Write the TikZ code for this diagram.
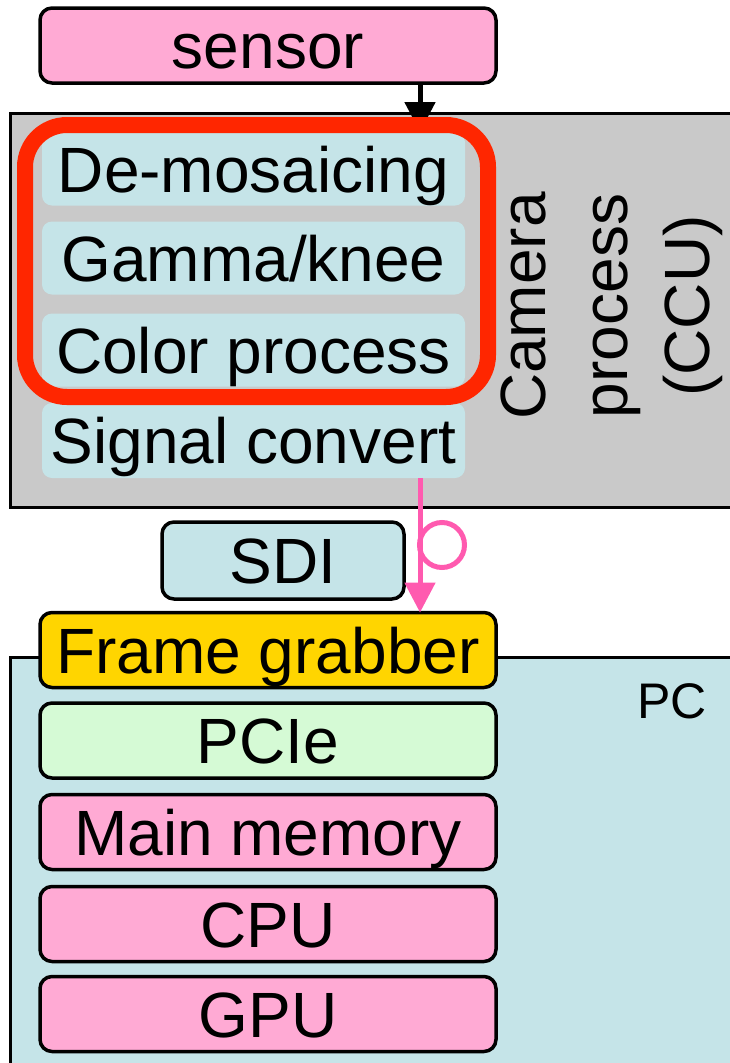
\documentclass[tikz,border=0pt]{standalone}
\usepackage{fontspec}
\setmainfont{Liberation Sans}
\usetikzlibrary{arrows.meta}

\definecolor{boxpink}{HTML}{FFAAD4}
\definecolor{boxblue}{HTML}{C5E4E8}
\definecolor{ccugray}{HTML}{C9C9C9}
\definecolor{groupred}{HTML}{FF2600}
\definecolor{boxgold}{HTML}{FFD500}
\definecolor{boxgreen}{HTML}{D5FAD5}
\definecolor{linkpink}{HTML}{FF5AAF}

\tikzset{
  lbl/.style={font=\fontsize{64}{71}\selectfont, text height=46pt, text depth=0pt, inner sep=0pt, outer sep=0pt},
  unit/.style={lbl, draw=black, line width=3.5pt, rounded corners=12pt, minimum width=456pt, minimum height=75pt},
  stage/.style={lbl, fill=boxblue, rounded corners=10pt, minimum width=423pt, minimum height=73pt},
  frame/.style={draw=black, line width=3pt, inner sep=0pt, outer sep=0pt},
  flow/.style={line width=5pt, -{Triangle[width=30pt,length=30pt]}},
}

\begin{document}
\begin{tikzpicture}[x=1pt, y=-1pt]
\useasboundingbox (0,0) rectangle (730,1063);

% camera control unit
\node[frame, fill=ccugray, minimum width=735pt, minimum height=394pt] (ccu) at (377.5,310) {};
\node[stage] (demosaic) at (253.5,169) {De-mosaicing};
\node[stage] (gamma) at (253.5,258) {Gamma/knee};
\node[stage] (color) at (253.5,350) {Color process};
\node[stage, minimum height=75pt] (signal) at (253.5,440.5) {Signal convert};
\node[font=\fontsize{64}{82}\selectfont, align=center, rotate=90, inner sep=0pt] (ccutitle) at (612,306) {Camera\\process\\(CCU)};

% sensor feeding the pipeline
\node[unit, fill=boxpink] (sensor) at (268,45.5) {sensor};
\coordinate (ccuin) at (420,132);
\draw[flow, black] (sensor.south -| ccuin) -- (ccuin);

% highlighted group of stages
\node[draw=groupred, line width=16pt, rounded corners=42pt, minimum width=463pt, minimum height=272pt, inner sep=0pt] (group) at (256.5,261) {};

% PC side
\node[frame, fill=boxblue, minimum width=735pt, minimum height=418pt] (pc) at (377.5,866) {};
\node[font=\fontsize{50}{56}\selectfont, text height=36pt, text depth=0pt, inner sep=0pt] (pclabel) at (672,700) {PC};
\node[unit, fill=boxgold] (grabber) at (268,650) {Frame grabber};
\node[unit, fill=boxgreen] (pcie) at (268,740.5) {PCIe};
\node[unit, fill=boxpink] (memory) at (268,832) {Main memory};
\node[unit, fill=boxpink] (cpu) at (268,924) {CPU};
\node[unit, fill=boxpink] (gpu) at (268,1014) {GPU};

% SDI link
\node[unit, fill=boxblue, minimum width=242pt, minimum height=77pt] (sdi) at (283,560.5) {SDI};
\coordinate (link) at (420,0);
\draw[flow, linkpink] (signal.south -| link) -- (grabber.north -| link);
\node[circle, draw=linkpink, line width=5pt, minimum size=45pt, inner sep=0pt] (loop) at (442,545) {};
\end{tikzpicture}
\end{document}
